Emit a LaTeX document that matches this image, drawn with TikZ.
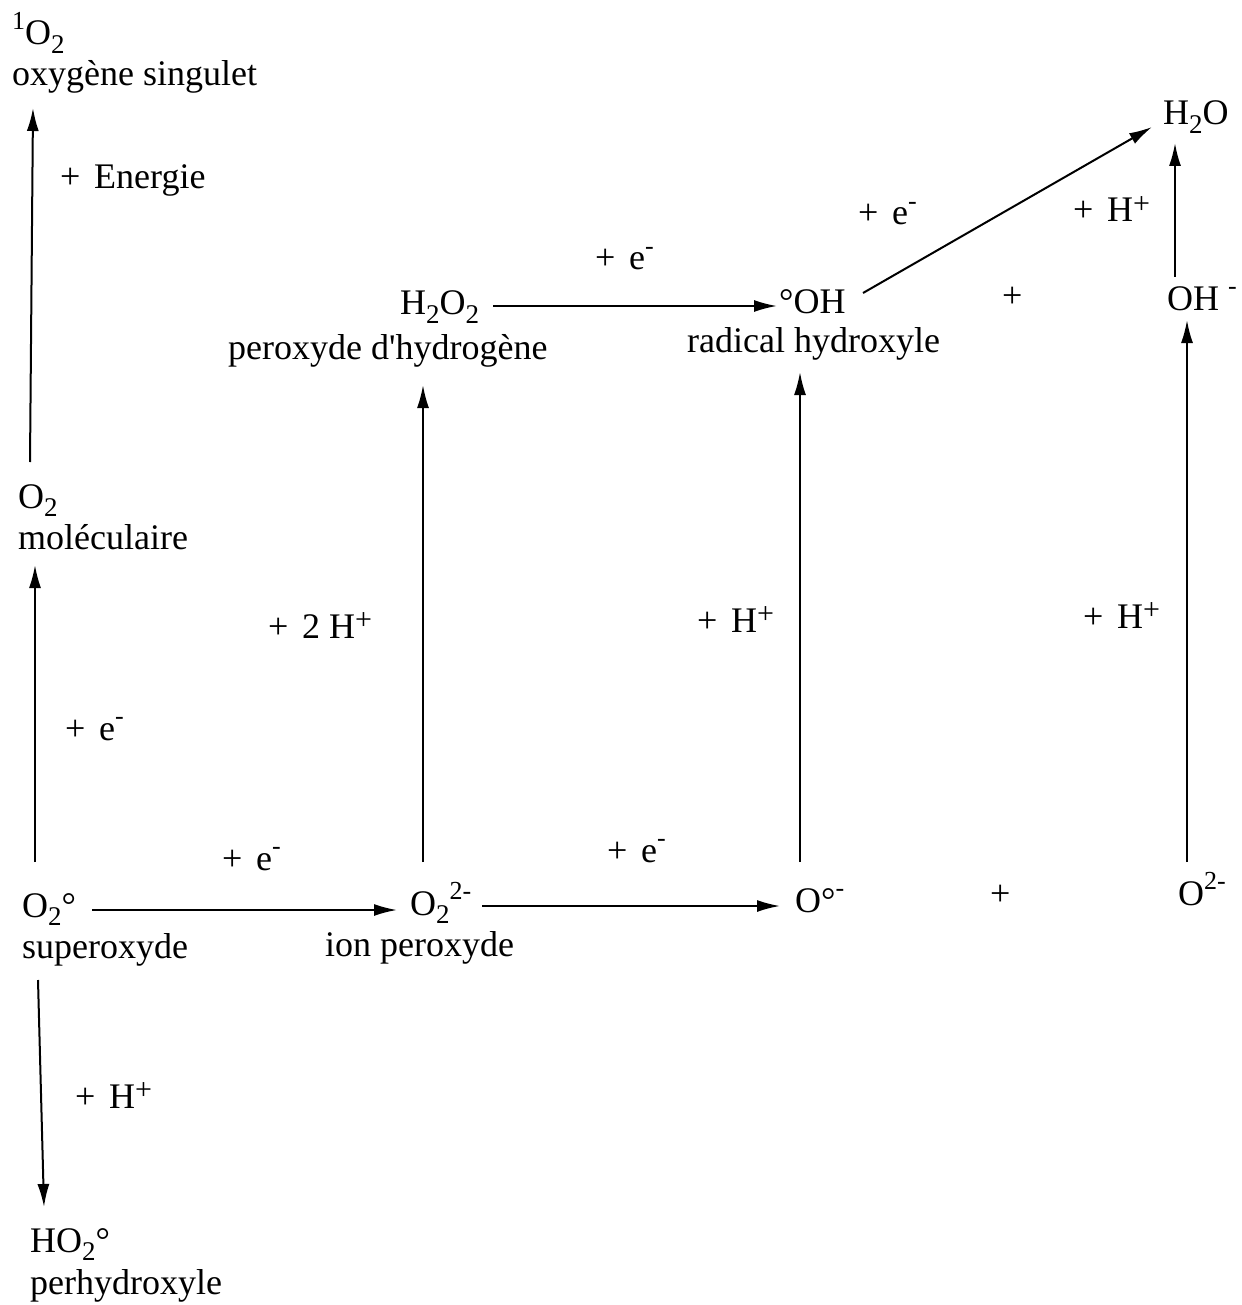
\documentclass[tikz,border=0pt]{standalone}
\usepackage{fontspec}
\setmainfont{Liberation Serif}[Ligatures=TeXOff]
\usetikzlibrary{arrows.meta}
\newcommand\dn[1]{\smash{\raisebox{-0.23em}{\fontsize{27}{30}\selectfont #1}}}
\newcommand\up[1]{\raisebox{0.42em}{\fontsize{26}{28}\selectfont #1}}
\newcommand\upp{\raisebox{0.24em}{\fontsize{30}{32}\selectfont +}}
\newcommand\pl{+\hspace{0.38em}}
\begin{document}
\begin{tikzpicture}[x=1pt,y=-1pt,
  lab/.style={anchor=base west,inner sep=0pt,font=\fontsize{36}{40}\selectfont},
  arr/.style={line width=2pt,-{Latex[length=23pt,width=12pt]}}]
\useasboundingbox (0,0) rectangle (1241,1305);
% species
\node[lab] (sO2) at (12,45) {\up{1}O\dn{2}};
\node[lab] (sing) at (12,86) {oxygène singulet};
\node[lab] (energ) at (60,189) {\pl Energie};
\node[lab] (h2o) at (1163,125) {H\dn{2}O};
\node[lab] (eA) at (858,225) {\pl e\up{-}};
\node[lab] (hA) at (1073,222) {\pl H\upp};
\node[lab] (ohm) at (1167,310) {OH \up{-}};
\node[lab] (plusT) at (1002,307) {+};
\node[lab] (eB) at (595,270) {\pl e\up{-}};
\node[lab] (h2o2) at (400,315) {H\dn{2}O\dn{2}};
\node[lab] (oh) at (779,313) {°OH};
\node[lab] (perox) at (228,359) {peroxyde d'hydrogène};
\node[lab] (radical) at (687,352) {radical hydroxyle};
\node[lab] (mol) at (18,508) {O\dn{2}};
\node[lab] (molname) at (18,549) {moléculaire};
\node[lab] (eC) at (65,740) {\pl e\up{-}};
\node[lab] (hB) at (268,638) {\pl 2 H\upp};
\node[lab] (hC) at (697,632) {\pl H\upp};
\node[lab] (hD) at (1083,628) {\pl H\upp};
\node[lab] (eD) at (222,870) {\pl e\up{-}};
\node[lab] (eE) at (607,862) {\pl e\up{-}};
\node[lab] (sup) at (22,917) {O\dn{2}°};
\node[lab] (pxion) at (410,915) {O\dn{2}\up{2-}};
\node[lab] (orad) at (795,912) {O°\up{-}};
\node[lab] (plusB) at (990,905) {+};
\node[lab] (o2m) at (1178,905) {O\up{2-}};
\node[lab] (superox) at (22,958) {superoxyde};
\node[lab] (ionp) at (325,956) {ion peroxyde};
\node[lab] (hE) at (75,1108) {\pl H\upp};
\node[lab] (ho2) at (30,1252) {HO\dn{2}°};
\node[lab] (perh) at (30,1294) {perhydroxyle};
% arrows
\draw[arr] ([shift={(12,-46)}]mol.base west) -- ([shift={(21,22)}]sing.base west);
\draw[arr] ([shift={(13,-55)}]sup.base west) -- ([shift={(17,16)}]molname.base west);
\draw[arr] ([shift={(16,22)}]superox.base west) -- ([shift={(14,-45)}]ho2.base west);
\draw[arr] ([shift={(70,-7)}]sup.base west) -- ([shift={(-13,-5)}]pxion.base west);
\draw[arr] ([shift={(72,-9)}]pxion.base west) -- ([shift={(-15,-6)}]orad.base west);
\draw[arr] ([shift={(13,-53)}]pxion.base west) -- ([shift={(195,26)}]perox.base west);
\draw[arr] ([shift={(5,-50)}]orad.base west) -- ([shift={(113,20)}]radical.base west);
\draw[arr] ([shift={(9,-43)}]o2m.base west) -- ([shift={(20,10)}]ohm.base west);
\draw[arr] ([shift={(93,-9)}]h2o2.base west) -- ([shift={(-2,-7)}]oh.base west);
\draw[arr] ([shift={(84,-20)}]oh.base west) -- ([shift={(-11,2)}]h2o.base west);
\draw[arr] ([shift={(8,-33)}]ohm.base west) -- ([shift={(12,18)}]h2o.base west);
\end{tikzpicture}
\end{document}
